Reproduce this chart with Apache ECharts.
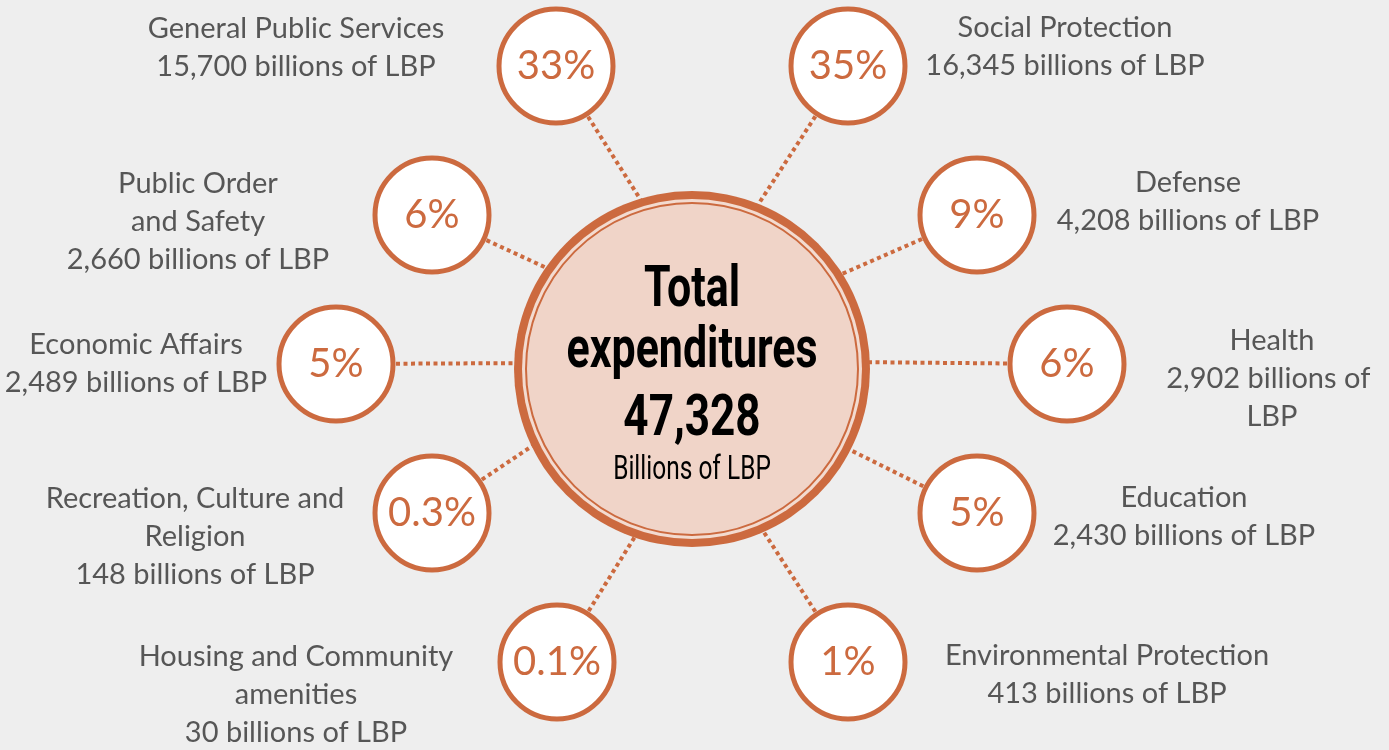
<!DOCTYPE html>
<html>
<head>
<meta charset="utf-8">
<title>Total expenditures</title>
<script src="https://cdn.jsdelivr.net/npm/echarts@6/dist/echarts.min.js"></script>
<style>
  html, body { margin: 0; padding: 0; background: #eeeeee; }
  #chart { width: 1389px; height: 750px; }
</style>
</head>
<body>
<div id="chart"></div>
<script>
// 数据
const categories = [
    'General Public Services', 'Social Protection',
    'Public Order\nand Safety', 'Defense',
    'Economic Affairs', 'Health',
    'Recreation, Culture and\nReligion', 'Education',
    'Housing and Community\namenities', 'Environmental Protection'
];
const amounts = [15700, 16345, 2660, 4208, 2489, 2902, 148, 2430, 30, 413];
const shares = [33, 35, 6, 9, 5, 6, 0.3, 5, 0.1, 1];
const totalAmount = 47328;

// 布局（像素坐标）
const CENTER = [692, 369];
const MAIN_R = 178;
const SAT_R = 60;
const satSlots = [
    [556, 66], [848, 66],
    [432, 215], [977, 215],
    [336, 364], [1067, 364],
    [432, 513], [977, 513],
    [557, 662], [848, 662]
];
// 连接线在大圆上的落点角度（度）
const linkAngles = [-106.9, -68.1, -145.2, -32.4, -178.1, -2.2, 154.3, 27.1, 108.8, 66.3];
const labelSlots = [
    [296, 48], [1065, 47],
    [198, 222], [1188, 202],
    [136, 364], [1272, 379],
    [195, 537], [1184, 517],
    [296, 695], [1107, 675]
];

const ORANGE = '#cc6a3f';
const PINK = '#f0d4c8';
const TEXT = '#303030';
const LABEL_FONT = 'Lato, "Open Sans", sans-serif';
const CENTER_FONT = 'Roboto, "Noto Sans", sans-serif';

const chart = echarts.init(document.getElementById('chart'));

// 连接线：从小圆边缘指向大圆上的落点
const links = satSlots.map((p, i) => {
    const a = linkAngles[i] * Math.PI / 180;
    const end = [CENTER[0] + (MAIN_R - 1) * Math.cos(a), CENTER[1] + (MAIN_R - 1) * Math.sin(a)];
    const dx = end[0] - p[0];
    const dy = end[1] - p[1];
    const len = Math.sqrt(dx * dx + dy * dy);
    return {
        coords: [
            [p[0] + dx / len * SAT_R, p[1] + dy / len * SAT_R],
            end
        ]
    };
});

const satData = shares.map((s, i) => ({ value: satSlots[i], share: s }));

const labelData = categories.map((name, i) => {
    const item = {
        value: labelSlots[i],
        text: name + '\n' + amounts[i].toLocaleString('en-US') + ' billions of LBP'
    };
    if (name === 'Health') {
        item.label = { width: 225, overflow: 'break' };
    }
    return item;
});

// 中心文字（窄体效果用 scaleX 实现）
function centerText(text, y, size, weight, scale) {
    return {
        type: 'text',
        x: CENTER[0],
        y: y,
        scaleX: scale,
        z: 100,
        silent: true,
        style: {
            text: text,
            fill: '#000',
            font: weight + ' ' + size + 'px ' + CENTER_FONT,
            textAlign: 'center',
            textVerticalAlign: 'middle'
        }
    };
}

const option = {
    backgroundColor: '#eeeeee',
    animation: false,
    grid: { left: 0, right: 0, top: 0, bottom: 0 },
    xAxis: { type: 'value', min: 0, max: 1389, show: false },
    yAxis: { type: 'value', min: 0, max: 750, inverse: true, show: false },
    graphic: [
        centerText('Total', 291, 58, 'bold', 0.74),
        centerText('expenditures', 352, 58, 'bold', 0.74),
        centerText(totalAmount.toLocaleString('en-US'), 420, 58, 'bold', 0.76),
        centerText('Billions of LBP', 470, 34, 'normal', 0.72)
    ],
    series: [
        {
            type: 'lines',
            coordinateSystem: 'cartesian2d',
            silent: true,
            z: 1,
            lineStyle: { color: ORANGE, width: 4, type: [4, 3.5], cap: 'butt', opacity: 1 },
            data: links
        },
        // 大圆：外环
        {
            type: 'scatter',
            silent: true,
            z: 2,
            symbolSize: MAIN_R * 2,
            itemStyle: { color: ORANGE, opacity: 1 },
            data: [CENTER]
        },
        {
            type: 'scatter',
            silent: true,
            z: 3,
            symbolSize: (MAIN_R - 8) * 2,
            itemStyle: { color: '#f3dbd0', opacity: 1 },
            data: [CENTER]
        },
        {
            type: 'scatter',
            silent: true,
            z: 4,
            symbolSize: (MAIN_R - 12) * 2,
            itemStyle: { color: PINK, borderColor: ORANGE, borderWidth: 2, opacity: 1 },
            data: [CENTER]
        },
        // 小圆：百分比
        {
            type: 'scatter',
            silent: true,
            z: 5,
            symbolSize: SAT_R * 2 - 6,
            itemStyle: { color: '#ffffff', borderColor: ORANGE, borderWidth: 5, opacity: 1 },
            label: {
                show: true,
                position: 'inside',
                formatter: p => p.data.share + '%',
                fontFamily: LABEL_FONT,
                fontSize: 40,
                color: ORANGE
            },
            data: satData
        },
        // 分类文字
        {
            type: 'scatter',
            silent: true,
            z: 6,
            symbolSize: 0,
            label: {
                show: true,
                position: 'inside',
                formatter: p => p.data.text,
                fontFamily: LABEL_FONT,
                fontSize: 29,
                lineHeight: 38,
                color: TEXT,
                align: 'center'
            },
            data: labelData
        }
    ]
};

chart.setOption(option);
</script>
</body>
</html>
